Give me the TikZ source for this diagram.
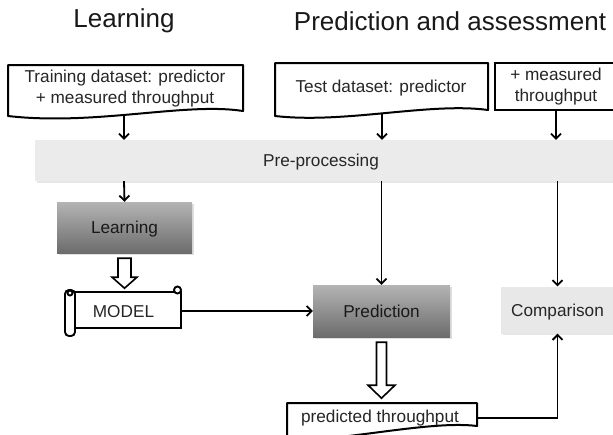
\documentclass[tikz,border=0pt]{standalone}
\usepackage{fontspec}
\setmainfont{Liberation Sans}
\usetikzlibrary{arrows.meta,shadows,calc}
\definecolor{gtop}{RGB}{180,180,180}
\definecolor{gbot}{RGB}{108,108,108}
\definecolor{prefill}{RGB}{235,235,235}
\definecolor{compfill}{RGB}{232,232,232}
\begin{document}
\begin{tikzpicture}[x=1pt,y=-1pt,
  txt/.style={font=\fontsize{17.2}{21}\selectfont, text=black!85, align=center, inner sep=0pt},
  oneline/.style={text height=12.3pt, text depth=0pt},
  title/.style={font=\fontsize{26}{30}\selectfont, text=black!90},
  doc/.style={draw=black, line width=2pt, fill=white, line join=round},
  arr/.style={draw=black, line width=1.8pt, -{Straight Barb[length=5pt,width=10pt,line width=1.8pt]}},
  gbox/.style={txt, oneline, draw=none, top color=gtop, bottom color=gbot, text=black!90,
    drop shadow={shadow xshift=1.5pt, shadow yshift=-1.5pt, opacity=0.25}},
  lbox/.style={txt, oneline, draw=none, fill=#1,
    drop shadow={shadow xshift=1.5pt, shadow yshift=-1.5pt, opacity=0.2}},
  hollow/.style={draw=black, line width=1.6pt, fill=white, line join=miter},
  scroll/.style={draw=black, line width=1.9pt, fill=white}
]
\useasboundingbox (0,0) rectangle (613,434);

% titles
\node[title] (t1) at (124,21) {Learning};
\node[title] (t2) at (450,21) {Prediction and assessment};

% training document
\draw[doc] (8,65) -- (243,65) -- (243,111) .. controls (185,102) and (95,126) .. (8,116) -- cycle;
\node[txt] (train) at (125,88.5) {Training dataset: predictor\\+ measured throughput};
\coordinate (trainout) at (124,115);

% test document
\draw[doc] (275,63) -- (488,63) -- (488,110) .. controls (430,102) and (345,124) .. (275,116) -- cycle;
\node[txt, oneline] (test) at (381,86) {Test dataset: predictor};
\coordinate (testout) at (382,114);

% measured throughput box
\node[txt, draw=black, line width=2pt, fill=white, minimum width=122pt, minimum height=47pt] (meas) at (556,86.5) {+ measured\\throughput};

% pre-processing bar
\node[lbox=prefill, minimum width=580pt, minimum height=41pt] (pre) at (325,160.5) {};
\node[txt, oneline] (pretxt) at (321,160) {Pre-processing};

% learning box
\node[gbox, minimum width=135pt, minimum height=51pt] (learn) at (124.5,227.5) {Learning};

% prediction box
\node[gbox, minimum width=137pt, minimum height=52pt] (pred) at (381.5,311) {Prediction};

% comparison box
\node[lbox=compfill, minimum width=113pt, minimum height=47pt] (comp) at (557.5,310) {Comparison};

% model scroll
\draw[scroll] (72,292) rectangle (181,328);
\draw[scroll] (177.5,290) circle (3.5);
\draw[scroll, rounded corners=4pt] (65,290) rectangle (75,336);
\draw[scroll] (70,293) circle (2.5);
\node[txt, oneline, minimum width=116pt, minimum height=40pt] (model) at (123.5,311) {MODEL};

% predicted throughput document
\draw[doc] (287,403) -- (477,403) -- (477,426) .. controls (430,420) and (340,442) .. (287,440) -- cycle;
\node[txt, oneline] (predtp) at (380,416) {predicted throughput};
\coordinate (predout) at (477,418);

% connectors
\draw[arr] (trainout) -- (trainout |- pre.north);
\draw[arr] (testout) -- (testout |- pre.north);
\draw[arr] (meas.south) -- (meas.south |- pre.north);
\draw[arr] (pre.south -| trainout) -- (learn.north);
\draw[arr] (pre.south -| pred.north) -- (pred.north);
\draw[arr] (pre.south -| comp.north) -- (comp.north);
\draw[arr] (model.east) -- (pred.west);
\draw[arr] (predout) -| (comp.south);

% hollow arrows
\draw[hollow] ($(learn.south)+(-6.5,5)$) -- ($(learn.south)+(6.5,5)$) -- ($(learn.south)+(6.5,24)$)
  -- ($(learn.south)+(12.5,24)$) -- ($(learn.south)+(0,35)$) -- ($(learn.south)+(-12.5,24)$)
  -- ($(learn.south)+(-6.5,24)$) -- cycle;
\draw[hollow] ($(pred.south)+(-5,5)$) -- ($(pred.south)+(5,5)$) -- ($(pred.south)+(5,48)$)
  -- ($(pred.south)+(13.5,48)$) -- ($(pred.south)+(0,61)$) -- ($(pred.south)+(-13.5,48)$)
  -- ($(pred.south)+(-5,48)$) -- cycle;
\end{tikzpicture}
\end{document}
